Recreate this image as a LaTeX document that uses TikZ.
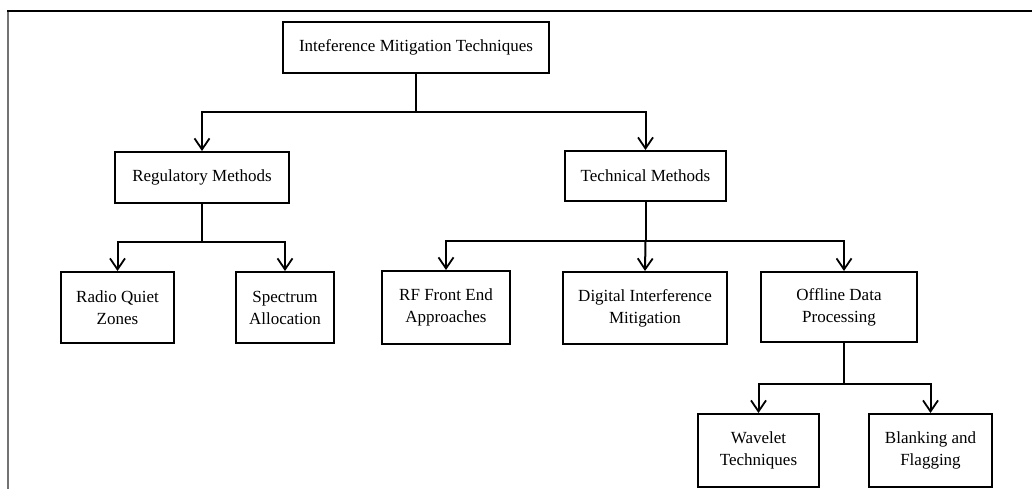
\documentclass[tikz,border=0pt]{standalone}
\usepackage{fontspec}
\setmainfont{Liberation Serif}
\usetikzlibrary{arrows.meta}

\begin{document}
\begin{tikzpicture}[x=1pt,y=-1pt,
  box/.style={draw=black, line width=2pt, align=center, inner sep=0pt,
              font=\fontsize{17}{22}\selectfont},
  conn/.style={draw=black, line width=2pt},
  arr/.style={conn, -{Straight Barb[length=11pt,width=15pt,line width=1.8pt]}}]
  \useasboundingbox (0,0) rectangle (1032,489);

  % outer frame (top and left edges)
  \draw[draw=black!55, line width=2.2pt] (8,489) -- (8,11);
  \draw[draw=black, line width=1.2pt] (7,11) -- (1032,11);

  % boxes
  \node[box, minimum width=266pt, minimum height=51pt] (top)  at (416,47.5) {Inteference Mitigation Techniques};
  \node[box, minimum width=174pt, minimum height=51pt] (reg)  at (202,177.5) {Regulatory Methods};
  \node[box, minimum width=161pt, minimum height=50pt] (tech) at (645.5,176) {Technical Methods};

  \node[box, minimum width=113pt, minimum height=71pt] (rqz)  at (117.5,307.5) {Radio Quiet\\Zones};
  \node[box, minimum width=98pt,  minimum height=71pt] (spec) at (285,307.5) {Spectrum\\Allocation};
  \node[box, minimum width=128pt, minimum height=73pt] (rf)   at (446,307.5) {RF Front End\\Approaches};
  \node[box, minimum width=164pt, minimum height=72pt] (dig)  at (645,308) {Digital Interference\\Mitigation};
  \node[box, minimum width=156pt, minimum height=70pt] (off)  at (839,307) {Offline Data\\Processing};

  \node[box, minimum width=121pt, minimum height=73pt] (wav)  at (758.5,450.5) {Wavelet\\Techniques};
  \node[box, minimum width=123pt, minimum height=73pt] (blk)  at (930.5,450.5) {Blanking and\\Flagging};

  % bus points below each parent
  \coordinate (b0) at (top.south |- 0,112);
  \coordinate (b1) at (reg.south |- 0,242);
  \coordinate (b2) at (tech.south |- 0,241);
  \coordinate (b3) at (844,384);

  % connectors
  \draw[conn] (top.south) -- (b0);
  \draw[arr] (b0) -| (reg.north);
  \draw[arr] (b0) -| (tech.north);

  \draw[conn] (reg.south) -- (b1);
  \draw[arr] (b1) -| (rqz.north);
  \draw[arr] (b1) -| (spec.north);

  \draw[conn] (tech.south) -- (b2);
  \draw[arr] (b2) -| (rf.north);
  \draw[arr] (b2) -- (dig.north);
  \draw[arr] (b2) -| ([xshift=5pt]off.north);

  \draw[conn] ([xshift=5pt]off.south) -- (b3);
  \draw[arr] (b3) -| (wav.north);
  \draw[arr] (b3) -| (blk.north);
\end{tikzpicture}
\end{document}
